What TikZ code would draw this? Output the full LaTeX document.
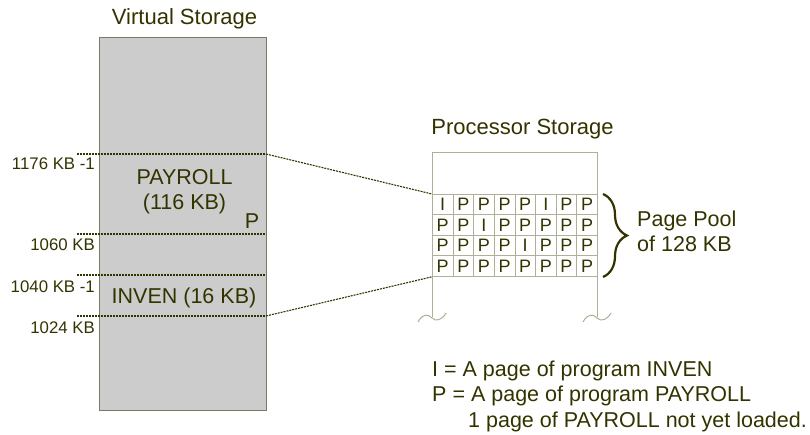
\documentclass[tikz,border=0pt]{standalone}
\usepackage{fontspec}
\setmainfont{Liberation Sans}
\usetikzlibrary{decorations.pathreplacing}
\definecolor{ink}{HTML}{333300}
\definecolor{boxline}{HTML}{B0B098}
\definecolor{frameline}{HTML}{7A7A60}
\definecolor{vsfill}{HTML}{CCCCCC}
\begin{document}
\begin{tikzpicture}[x=1pt, y=-1pt,
    big/.style={font=\fontsize{21.5}{25}\selectfont, text=ink, inner sep=0pt},
    addr/.style={font=\fontsize{16.8}{20}\selectfont, text=ink, inner sep=0pt, anchor=base east},
    cell/.style={draw=boxline, line width=0.8pt, minimum width=20.625pt, minimum height=20.5pt,
                 inner sep=0pt, font=\fontsize{18}{20}\selectfont, text=ink, anchor=north west},
    addrline/.style={ink, line width=1.1pt, dash pattern=on 2pt off 1pt}]

    \useasboundingbox (0,0) rectangle (810,435);

    % Virtual storage column
    \draw[frameline, fill=vsfill, line width=1pt] (99,38) rectangle (266,410);
    \node[big, font=\fontsize{22}{25}\selectfont, anchor=base] (vstitle) at (184.5,25) {Virtual Storage};

    % address marks
    \foreach \name/\ypos/\txt/\ty in {a1176/154/{1176 KB -1}/170, a1060/234/{1060 KB}/251,
                                      a1040/275/{1040 KB -1}/292.7, a1024/316/{1024 KB}/333.3} {
        \coordinate (\name-l) at (77,\ypos);
        \coordinate (\name) at (266,\ypos);
        \draw[addrline] (\name-l) -- (\name);
        \node[addr] (\name-txt) at (95,\ty) {\txt};
    }

    \node[big, anchor=base] (payroll) at (184.5,185) {PAYROLL};
    \node[big, anchor=base] (paysize) at (184.5,210) {(116 KB)};
    \node[big, anchor=base] (pmark) at (252,228.3) {P};
    \node[big, anchor=base] (inven) at (184,303.3) {INVEN (16 KB)};

    % Processor storage
    \node[big, font=\fontsize{22}{25}\selectfont, anchor=base] (pstitle) at (522.5,135) {Processor Storage};
    \draw[boxline, line width=1pt] (432,317) -- (432,153) -- (597,153) -- (597,317);
    \foreach \bx in {432,597}
        \draw[boxline, line width=1pt] (\bx-14,322) .. controls (\bx-9,313) and (\bx-4,314) .. (\bx,318)
            .. controls (\bx+4,322) and (\bx+10,320) .. (\bx+14,313);

    % page pool
    \foreach \row/\letters in {1/{I,P,P,P,P,I,P,P}, 2/{P,P,I,P,P,P,P,P},
                               3/{P,P,P,P,I,P,P,P}, 4/{P,P,P,P,P,P,P,P}}
        \foreach \ch [count=\col] in \letters
            \node[cell] (cell-\row-\col) at ({432+(\col-1)*20.625},{194+(\row-1)*20.5}) {\ch};

    \draw[addrline] (a1176) -- (cell-1-1.north west);
    \draw[addrline] (a1024) -- (cell-4-1.south west);

    \draw[ink, line width=2.2pt, decorate, decoration={brace, amplitude=24pt}] (603,194) -- (603,277);
    \node[big, anchor=base west] (pool1) at (637,226.7) {Page Pool};
    \node[big, anchor=base west] (pool2) at (637,251.7) {of 128 KB};

    % legend
    \node[big, anchor=base west] (leg1) at (432,376) {I = A page of program INVEN};
    \node[big, anchor=base west] (leg2) at (432,401.7) {P = A page of program PAYROLL};
    \node[big, anchor=base west] (leg3) at (468,427.3) {1 page of PAYROLL not yet loaded.};
\end{tikzpicture}
\end{document}
